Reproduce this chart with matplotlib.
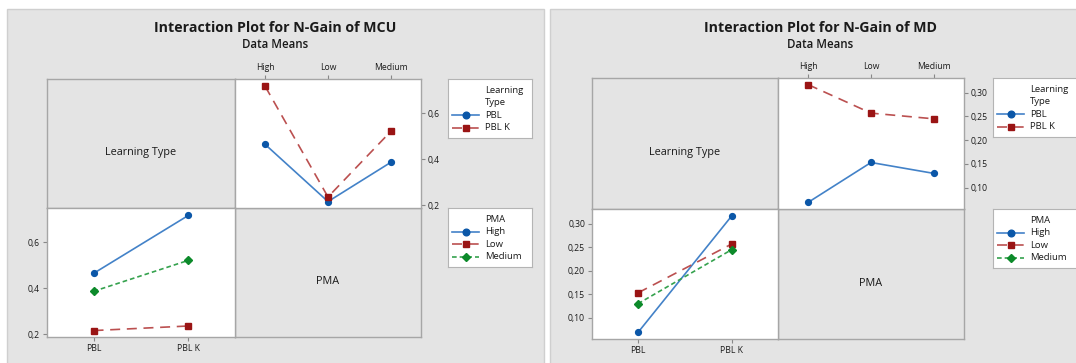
import matplotlib
matplotlib.use("Agg")
import matplotlib.pyplot as plt
from matplotlib.patches import Rectangle

plt.rcParams['font.family'] = ['Open Sans', 'DejaVu Sans']

# data
pma_levels = ['High', 'Low', 'Medium']
learning_types = ['PBL', 'PBL K']

mcu_pbl = [0.464, 0.215, 0.386]
mcu_pblk = [0.717, 0.235, 0.521]
md_pbl = [0.069, 0.153, 0.130]
md_pblk = [0.317, 0.257, 0.245]

mcu_yticks = [0.2, 0.4, 0.6]
mcu_ylabels = ['0,2', '0,4', '0,6']
md_yticks = [0.10, 0.15, 0.20, 0.25, 0.30]
md_ylabels = ['0,10', '0,15', '0,20', '0,25', '0,30']

W, H = 1076, 363
BG = '#e4e4e4'
EDGE = '#a6a6a6'
TXT = '#1a1a1a'

# line colour, marker colour, marker, dash style
lt_styles = [('#4382c8', '#0b57a8', 'o', '-'),
             ('#bb5050', '#9a1414', 's', (0, (6, 4)))]
pma_styles = [('#4382c8', '#0b57a8', 'o', '-'),
              ('#bb5050', '#9a1414', 's', (0, (6, 4))),
              ('#35a24e', '#0c8a2a', 'D', (0, (2.8, 1.8)))]

fig = plt.figure(figsize=(W / 100, H / 100), dpi=100)
fig.patch.set_facecolor('white')


def px(x0, y0, x1, y1):
    return [x0 / W, 1 - y1 / H, (x1 - x0) / W, (y1 - y0) / H]


def style_spines(ax):
    for s in ax.spines.values():
        s.set_color(EDGE)
        s.set_linewidth(1.0)


def label_cell(x0, y0, x1, y1, text):
    ax = fig.add_axes(px(x0, y0, x1, y1))
    ax.set_facecolor(BG)
    ax.set_xticks([])
    ax.set_yticks([])
    style_spines(ax)
    ax.text(0.5, 0.5 - 9 / (y1 - y0), text, transform=ax.transAxes,
            ha='center', va='center', fontsize=7.8, color=TXT)


def draw_key(x0, y0, x1, y1, title_lines, labels, styles):
    ax = fig.add_axes(px(x0, y0, x1, y1))
    ax.set_xlim(x0, x1)
    ax.set_ylim(y1, y0)
    ax.set_xticks([])
    ax.set_yticks([])
    ax.set_facecolor('white')
    for s in ax.spines.values():
        s.set_color('#b4b4b4')
        s.set_linewidth(0.8)
    y = y0 + 11.5
    for t in title_lines:
        ax.text(x0 + 37, y, t, ha='left', va='center', fontsize=6.8, color=TXT)
        y += 12.4
    for lab, (lc, mc, mk, ls) in zip(labels, styles):
        ax.plot([x0 + 4, x0 + 31], [y, y], color=lc, ls=ls, lw=1.2)
        ax.plot([x0 + 18], [y], marker=mk, color=mc, ms=4.8 if mk != 'D' else 4.4, ls='none')
        ax.text(x0 + 37, y, lab, ha='left', va='center', fontsize=6.8, color=TXT)
        y += 12.4


def interaction_panel(bx, by, pbl, pblk, ylim, yticks, ylabels, title,
                      title_x, panel_box, key_x):
    # panel background
    fig.patches.append(Rectangle((panel_box[0] / W, 1 - panel_box[3] / H),
                                 (panel_box[2] - panel_box[0]) / W,
                                 (panel_box[3] - panel_box[1]) / H,
                                 transform=fig.transFigure, facecolor=BG,
                                 edgecolor='#cfcfcf', lw=1.0, zorder=-10))
    fig.text(title_x / W, 1 - 28 / H, title, ha='center', va='center',
             fontsize=10.2, fontweight='bold', color=TXT)
    fig.text(title_x / W, 1 - 45 / H, 'Data Means', ha='center', va='center',
             fontsize=8.3, fontweight='semibold', color=TXT)

    label_cell(bx[0], by[0], bx[1], by[1], 'Learning Type')
    label_cell(bx[1], by[1], bx[2], by[2], 'PMA')

    # top right: Learning Type lines across PMA levels
    ax = fig.add_axes(px(bx[1], by[0], bx[2], by[1]))
    ax.set_facecolor('white')
    xs = range(len(pma_levels))
    for vals, (lc, mc, mk, ls) in zip([pbl, pblk], lt_styles):
        ax.plot(xs, vals, color=lc, ls=ls, lw=1.2)
        ax.plot(xs, vals, color=mc, marker=mk, ls='none', ms=4.2 if mk == 'o' else 4.6)
    ax.set_xlim(-0.48, 2.48)
    ax.set_ylim(*ylim)
    ax.set_xticks(list(xs))
    ax.set_xticklabels(pma_levels)
    ax.set_yticks(yticks)
    ax.set_yticklabels(ylabels)
    ax.xaxis.tick_top()
    ax.yaxis.tick_right()
    ax.tick_params(length=3, width=0.8, color='#888888', labelsize=6.2,
                   labelcolor=TXT, pad=2)
    style_spines(ax)

    # bottom left: PMA lines across learning types
    ax = fig.add_axes(px(bx[0], by[1], bx[1], by[2]))
    ax.set_facecolor('white')
    xs = range(len(learning_types))
    for i, (lc, mc, mk, ls) in enumerate(pma_styles):
        vals = [pbl[i], pblk[i]]
        ax.plot(xs, vals, color=lc, ls=ls, lw=1.2)
        ax.plot(xs, vals, color=mc, marker=mk, ls='none',
                ms=4.2 if mk == 'o' else (4.6 if mk == 's' else 4.4))
    ax.set_xlim(-0.49, 1.49)
    ax.set_ylim(*ylim)
    ax.set_xticks(list(xs))
    ax.set_xticklabels(learning_types)
    ax.set_yticks(yticks)
    ax.set_yticklabels(ylabels)
    ax.tick_params(length=3, width=0.8, color='#888888', labelsize=6.2,
                   labelcolor=TXT, pad=2)
    style_spines(ax)

    draw_key(key_x, by[0], key_x + 84, by[0] + 59, ['Learning', 'Type'],
             learning_types, lt_styles)
    draw_key(key_x, by[1], key_x + 84, by[1] + 59, ['PMA'],
             pma_levels, pma_styles)


interaction_panel([47, 235, 421], [79, 208, 337], mcu_pbl, mcu_pblk,
                  (0.187, 0.749), mcu_yticks, mcu_ylabels,
                  'Interaction Plot for N-Gain of MCU', 275,
                  (7, 9, 544, 370), 448)
interaction_panel([592, 778, 964], [78, 209, 339], md_pbl, md_pblk,
                  (0.055, 0.331), md_yticks, md_ylabels,
                  'Interaction Plot for N-Gain of MD', 820,
                  (550, 9, 1080, 370), 993)

fig.savefig('out.png', dpi=100)
